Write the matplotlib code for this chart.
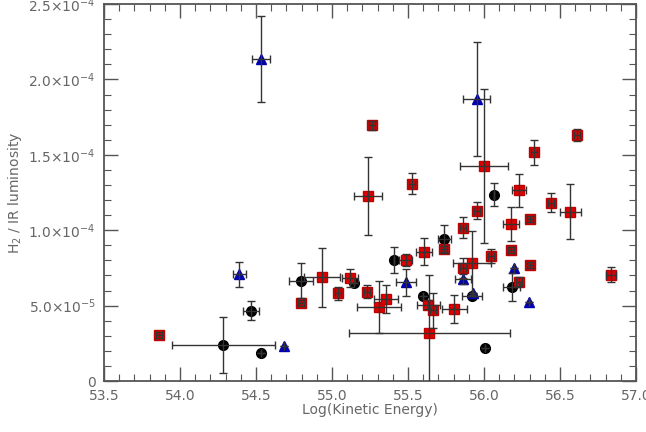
import matplotlib
matplotlib.use("Agg")
import matplotlib.pyplot as plt
import numpy as np
from matplotlib.ticker import MultipleLocator

# red squares: x, y, xerr, yerr
sq_x = [53.862, 54.796, 54.934, 55.038, 55.118, 55.232, 55.239, 55.261, 55.311, 55.355,
        55.485, 55.528, 55.605, 55.634, 55.640, 55.662, 55.739, 55.803, 55.864, 55.864,
        55.923, 55.952, 56.000, 56.046, 56.178, 56.178, 56.230, 56.230, 56.303, 56.303,
        56.331, 56.441, 56.566, 56.610, 56.834]
sq_y = [3.05e-5, 5.20e-5, 6.87e-5, 5.82e-5, 6.82e-5, 5.93e-5, 1.228e-4, 1.695e-4, 4.93e-5, 5.44e-5,
        8.03e-5, 1.31e-4, 8.59e-5, 5.05e-5, 3.17e-5, 4.71e-5, 8.74e-5, 4.78e-5, 1.018e-4, 7.52e-5,
        7.82e-5, 1.131e-4, 1.428e-4, 8.27e-5, 1.04e-4, 8.70e-5, 1.264e-4, 6.59e-5, 1.074e-4, 7.70e-5,
        1.516e-4, 1.184e-4, 1.124e-4, 1.629e-4, 7.04e-5]
sq_xerr = [0.02, 0.02, 0.12, 0.02, 0.05, 0.02, 0.092, 0.02, 0.145, 0.077,
           0.044, 0.02, 0.05, 0.077, 0.53, 0.02, 0.02, 0.082, 0.02, 0.02,
           0.125, 0.02, 0.155, 0.02, 0.05, 0.02, 0.044, 0.02, 0.02, 0.02,
           0.02, 0.02, 0.069, 0.02, 0.033]
sq_yerr = [0.2e-5, 0.2e-5, 1.93e-5, 0.43e-5, 0.6e-5, 0.43e-5, 2.6e-5, 0.3e-5, 1.73e-5, 0.93e-5,
           0.42e-5, 0.72e-5, 0.88e-5, 0.3e-5, 3.85e-5, 1.16e-5, 0.2e-5, 0.9e-5, 0.72e-5, 0.66e-5,
           2.1e-5, 0.55e-5, 5.1e-5, 0.47e-5, 1.13e-5, 0.2e-5, 1.09e-5, 0.3e-5, 0.2e-5, 0.2e-5,
           0.83e-5, 0.6e-5, 1.83e-5, 0.4e-5, 0.5e-5]

# black circles
ci_x = [54.285, 54.465, 54.531, 54.796, 55.145, 55.410, 55.597, 55.739, 55.919, 56.007, 56.068, 56.181]
ci_y = [2.39e-5, 4.65e-5, 1.88e-5, 6.64e-5, 6.53e-5, 8.03e-5, 5.66e-5, 9.43e-5, 5.64e-5, 2.21e-5,
        1.235e-4, 6.24e-5]
ci_xerr = [0.34, 0.053, 0.0, 0.08, 0.0, 0.0, 0.0, 0.044, 0.066, 0.0, 0.0, 0.055]
ci_yerr = [1.88e-5, 0.63e-5, 0.0, 1.16e-5, 0.0, 0.88e-5, 0.0, 0.93e-5, 0.0, 0.0, 0.77e-5, 0.93e-5]

# blue triangles
tr_x = [54.390, 54.531, 54.684, 55.487, 55.864, 55.930, 55.952, 56.197, 56.298]
tr_y = [7.08e-5, 2.138e-4, 2.34e-5, 6.55e-5, 6.77e-5, 5.82e-5, 1.87e-4, 7.48e-5, 5.27e-5]
tr_xerr = [0.044, 0.058, 0.0, 0.063, 0.052, 0.0, 0.088, 0.0, 0.0]
tr_yerr = [0.84e-5, 2.85e-5, 0.0, 0.9e-5, 0.36e-5, 0.0, 3.8e-5, 0.0, 0.0]

ytick_vals = [0, 5e-5, 1e-4, 1.5e-4, 2e-4, 2.5e-4]
ytick_labels = ["0", r"5.0$\times$10$^{-5}$", r"1.0$\times$10$^{-4}$", r"1.5$\times$10$^{-4}$",
                r"2.0$\times$10$^{-4}$", r"2.5$\times$10$^{-4}$"]
xtick_vals = [53.5, 54.0, 54.5, 55.0, 55.5, 56.0, 56.5, 57.0]

fig = plt.figure(figsize=(6.46, 4.32), dpi=100)
ax = fig.add_axes([0.161, 0.118, 0.8235, 0.8725])

ebkw = dict(fmt="none", ecolor="#333333", elinewidth=1.0, capsize=3, capthick=1.0, zorder=3)

ax.plot(ci_x, ci_y, "o", color="black", markersize=7, zorder=2)
ax.errorbar(ci_x, ci_y, xerr=ci_xerr, yerr=ci_yerr, **ebkw)
ax.plot(sq_x, sq_y, "s", color="#e00000", markeredgecolor="#c00000", markersize=7.5, zorder=2)
ax.errorbar(sq_x, sq_y, xerr=sq_xerr, yerr=sq_yerr, **ebkw)
ax.plot(tr_x, tr_y, "^", color="#0000b0", markersize=7, zorder=2)
ax.errorbar(tr_x, tr_y, xerr=tr_xerr, yerr=tr_yerr, **ebkw)

ax.set_xlim(53.5, 57.0)
ax.set_ylim(0, 2.5e-4)
ax.set_xticks(xtick_vals)
ax.set_yticks(ytick_vals)
ax.set_yticklabels(ytick_labels)
ax.xaxis.set_minor_locator(MultipleLocator(0.1))
ax.yaxis.set_minor_locator(MultipleLocator(1e-5))

ax.tick_params(which="both", direction="in", top=True, right=True, colors="#555555",
               labelcolor="#666666", labelsize=10)
ax.tick_params(which="major", length=10, width=1.0, pad=6)
ax.tick_params(which="minor", length=5, width=0.8)
for s in ax.spines.values():
    s.set_color("#555555")
    s.set_linewidth(1.3)

ax.set_xlabel("Log(Kinetic Energy)", color="#666666", fontsize=10, labelpad=0)
ax.set_ylabel(r"H$_2$ / IR luminosity", color="#666666", fontsize=10)
ax.yaxis.set_label_coords(-0.15, 0.5)

fig.savefig("out.png", dpi=100)
